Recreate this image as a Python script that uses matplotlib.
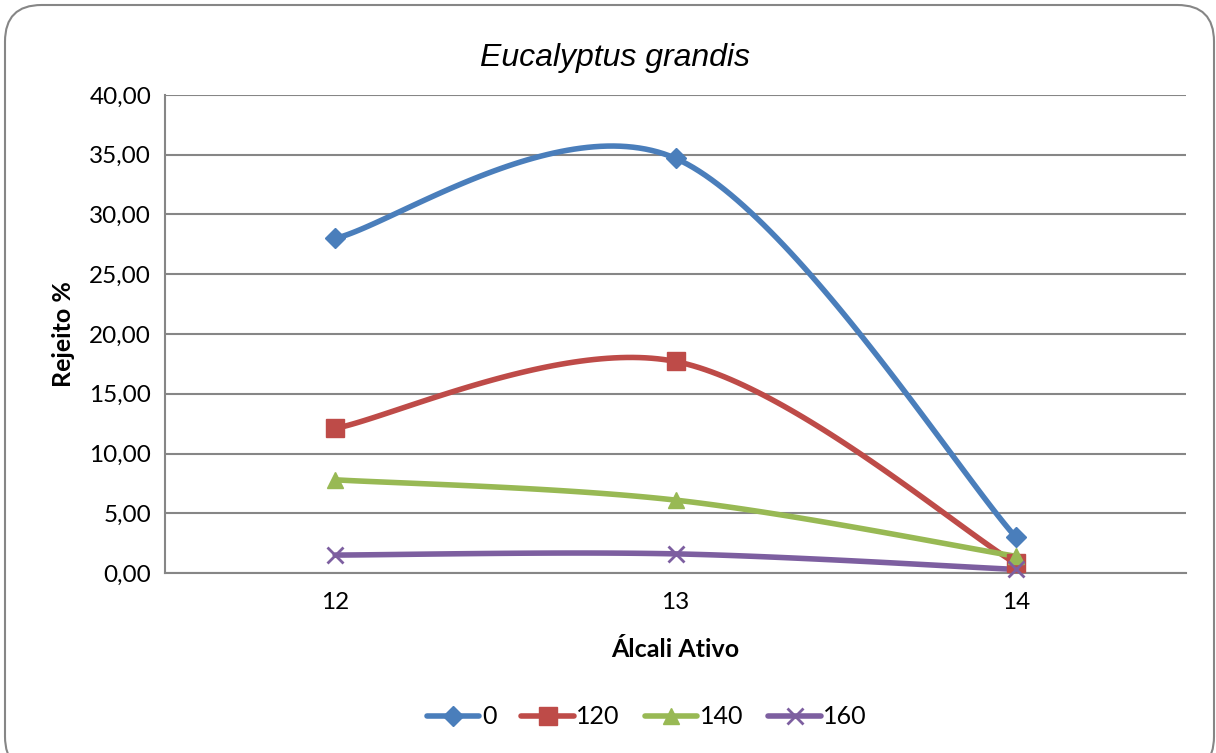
import numpy as np
import matplotlib
matplotlib.use('Agg')
import matplotlib.pyplot as plt
from matplotlib.patches import FancyBboxPatch
from matplotlib.lines import Line2D

categories = ['12', '13', '14']
series_names = ['0', '120', '140', '160']
values_0 = [28.0, 34.7, 3.0]
values_120 = [12.1, 17.7, 0.8]
values_140 = [7.8, 6.1, 1.4]
values_160 = [1.5, 1.6, 0.3]
yticks = [0, 5, 10, 15, 20, 25, 30, 35, 40]

colors = ['#4a7ebb', '#be4b48', '#98b954', '#7d5fa0']
markers = ['D', 's', '^', 'x']
msizes = [10, 13, 12, 12]

plt.rcParams['font.family'] = ['Lato', 'DejaVu Sans']


def smooth(xs, ys, n=60):
    # excel-like smoothed line: bezier segments with catmull-rom control points
    pts = np.column_stack([xs, ys]).astype(float)
    out = []
    for i in range(len(pts) - 1):
        p0 = pts[i - 1] if i > 0 else pts[i]
        p1 = pts[i]
        p2 = pts[i + 1]
        p3 = pts[i + 2] if i + 2 < len(pts) else pts[i + 1]
        c1 = p1 + (p2 - p0) / 6
        c2 = p2 - (p3 - p1) / 6
        t = np.linspace(0, 1, n)[:, None]
        seg = ((1 - t) ** 3) * p1 + 3 * ((1 - t) ** 2) * t * c1 + 3 * (1 - t) * t ** 2 * c2 + t ** 3 * p2
        out.append(seg if i == 0 else seg[1:])
    out = np.vstack(out)
    return out[:, 0], out[:, 1]


fig = plt.figure(figsize=(12.16, 7.53), dpi=100)
border = FancyBboxPatch((5 / 1216, -20 / 753), 1209 / 1216, 768 / 753,
                        boxstyle='round,pad=0,rounding_size=0.03',
                        transform=fig.transFigure, facecolor='none',
                        edgecolor='#868686', linewidth=1.5, mutation_aspect=1216 / 753)
fig.patches.append(border)

ax = fig.add_axes([165 / 1216, 1 - 573 / 753, 1021 / 1216, 478 / 753])
ax.set_facecolor('none')
x = np.arange(len(categories))
all_values = [values_0, values_120, values_140, values_160]
handles = []
for name, vals, c, m, ms in zip(series_names, all_values, colors, markers, msizes):
    sx, sy = smooth(x, vals)
    ax.plot(sx, sy, color=c, lw=4, solid_capstyle='round', zorder=3, clip_on=False)
    ax.plot(x, vals, linestyle='none', marker=m, color=c, markersize=ms,
            markeredgewidth=2 if m == 'x' else 1, zorder=4, clip_on=False)
    handles.append(Line2D([0], [0], color=c, lw=4, marker=m, markersize=ms,
                          markeredgewidth=2 if m == 'x' else 1, solid_capstyle='round'))

ax.set_xlim(-0.5, len(categories) - 0.5)
ax.set_ylim(0, 40)
ax.set_yticks(yticks)
ax.set_yticklabels(['{:.2f}'.format(v).replace('.', ',') for v in yticks], fontsize=17.5)
ax.set_xticks(x)
ax.set_xticklabels(categories, fontsize=17.5)
ax.tick_params(length=0, pad=10)
ax.tick_params(axis='x', pad=14)
ax.grid(axis='y', color='#868686', lw=1.5)
ax.set_axisbelow(True)
for s in ['top', 'right']:
    ax.spines[s].set_visible(False)
for s in ['left', 'bottom']:
    ax.spines[s].set_color('#868686')
    ax.spines[s].set_linewidth(1.5)

ax.set_ylabel('Rejeito %', fontsize=18, fontweight='bold', labelpad=10)
ax.set_xlabel('Álcali Ativo', fontsize=18, fontweight='bold', labelpad=18)
fig.text(615 / 1216, 1 - 58 / 753, 'Eucalyptus grandis', fontsize=23, style='italic',
         family='Liberation Sans', ha='center', va='center')

fig.legend(handles, series_names, loc='center', bbox_to_anchor=(647 / 1216, 1 - 717 / 753),
           ncol=4, frameon=False, fontsize=18, handlelength=2.1, handletextpad=0.1,
           columnspacing=1.0)

fig.savefig('out.png', dpi=100)
